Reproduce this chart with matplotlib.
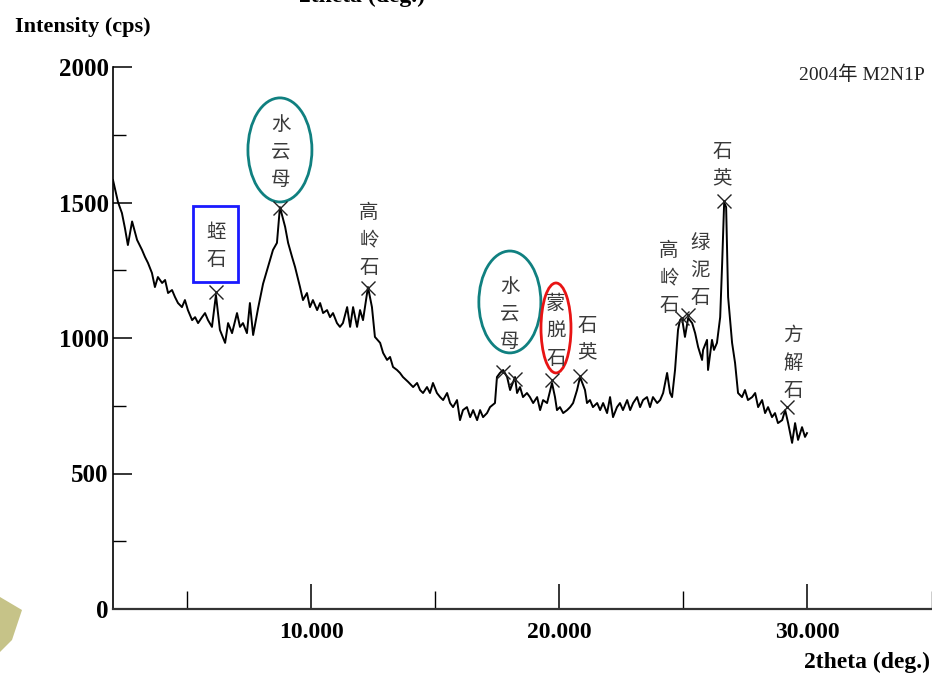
import matplotlib.pyplot as plt
from matplotlib.patches import Ellipse, Rectangle, Polygon
from matplotlib.ticker import MultipleLocator, FormatStrFormatter

plt.rcParams['font.family'] = ['Liberation Serif', 'Noto Sans CJK SC']

# XRD scan of sample M2N1P (2004)
two_theta = [2.00, 2.20, 2.36, 2.48, 2.60, 2.77, 2.97, 3.17, 3.29, 3.41, 3.57, 3.69, 3.81, 3.98,
             4.10, 4.22, 4.38, 4.50, 4.62, 4.78, 4.90, 5.02, 5.19, 5.31, 5.43, 5.59, 5.71, 5.83,
             5.99, 6.15, 6.31, 6.52, 6.64, 6.80, 7.00, 7.12, 7.24, 7.40, 7.52, 7.65, 7.85, 8.05,
             8.13, 8.33, 8.45, 8.61, 8.73, 8.94, 9.06, 9.22, 9.34, 9.54, 9.66, 9.82, 9.94, 10.06,
             10.23, 10.35, 10.47, 10.63, 10.75, 10.87, 11.03, 11.15, 11.27, 11.44, 11.56, 11.68,
             11.84, 11.96, 12.08, 12.28, 12.44, 12.56, 12.77, 12.89, 13.05, 13.17, 13.29, 13.45,
             13.57, 13.69, 13.90, 14.10, 14.26, 14.38, 14.50, 14.66, 14.78, 14.90, 15.06, 15.19,
             15.31, 15.47, 15.59, 15.71, 15.87, 15.99, 16.11, 16.27, 16.40, 16.52, 16.68, 16.80,
             16.92, 17.08, 17.20, 17.40, 17.48, 17.60, 17.73, 17.89, 18.01, 18.21, 18.29, 18.41,
             18.53, 18.69, 18.81, 18.94, 19.10, 19.22, 19.34, 19.50, 19.70, 19.82, 19.90, 20.02,
             20.15, 20.31, 20.43, 20.55, 20.71, 20.83, 21.03, 21.11, 21.23, 21.35, 21.52, 21.64,
             21.76, 21.92, 22.04, 22.16, 22.32, 22.44, 22.56, 22.73, 22.85, 22.97, 23.13, 23.25,
             23.37, 23.53, 23.65, 23.77, 23.94, 24.06, 24.18, 24.34, 24.46, 24.54, 24.66, 24.78,
             24.86, 24.94, 25.06, 25.19, 25.35, 25.47, 25.59, 25.75, 25.79, 25.95, 25.99, 26.15,
             26.23, 26.35, 26.48, 26.56, 26.64, 26.72, 26.80, 26.96, 27.08, 27.20, 27.36, 27.48,
             27.60, 27.77, 27.89, 28.01, 28.17, 28.29, 28.41, 28.57, 28.69, 28.81, 28.98, 29.10,
             29.22, 29.38, 29.50, 29.62, 29.78, 29.90, 29.98]
intensity = [1583, 1502, 1461, 1406, 1343, 1430, 1362, 1325, 1299, 1277, 1240, 1188, 1225, 1203,
             1214, 1166, 1177, 1151, 1129, 1114, 1140, 1103, 1066, 1077, 1055, 1077, 1092, 1066,
             1041, 1159, 1030, 982, 1055, 1018, 1092, 1041, 1055, 1018, 1129, 1011, 1110, 1200,
             1225, 1288, 1325, 1351, 1483, 1410, 1351, 1299, 1262, 1188, 1140, 1166, 1114, 1140,
             1103, 1129, 1092, 1103, 1077, 1092, 1055, 1041, 1055, 1114, 1041, 1114,
             1041, 1103, 1066, 1188, 1114, 1004, 982, 945, 919, 930, 893, 882,
             871, 856, 838, 819, 834, 808, 797, 819, 797, 834, 797, 782,
             771, 797, 760, 745, 771, 697, 734, 745, 708, 734, 697, 734,
             708, 723, 745, 760, 856, 871, 882, 856, 808, 856, 797, 819,
             782, 797, 782, 760, 782, 734, 771, 760, 834, 782, 734, 745,
             723, 734, 745, 760, 808, 856, 808, 760, 771, 745, 760, 734,
             760, 723, 782, 708, 745, 760, 734, 771, 734, 760, 782, 745,
             771, 782, 745, 782, 760, 771, 797, 871, 797, 782, 882, 1030,
             1066, 1074, 1004, 1074, 1055, 1018, 967, 919, 956, 993, 882, 993,
             956, 982, 1077, 1277, 1500, 1483, 1151, 982, 908, 797, 782, 808,
             771, 782, 797, 745, 771, 723, 745, 708, 723, 686, 697, 734,
             686, 613, 686, 624, 671, 635, 649]

# identified peaks (x marks)
peak_x = [6.15, 8.73, 12.28, 17.73, 18.21, 19.70, 20.83, 24.94, 25.19, 26.64, 29.18]
peak_y = [1170, 1480, 1185, 875, 848, 845, 860, 1074, 1085, 1505, 745]

fig = plt.figure(figsize=(9.32, 6.81), dpi=100)
ax = fig.add_axes([113 / 932, 72 / 681, 819 / 932, 542 / 681])

ax.plot(two_theta, intensity, color='black', lw=1.4)
ax.plot(peak_x, peak_y, 'x', color='#222222', ms=10, mew=1.0)

ax.set_xlim(2, 35.02)
ax.set_ylim(0, 2000)
for s in ['top', 'right']:
    ax.spines[s].set_visible(False)
ax.spines['left'].set_linewidth(1.2)
ax.spines['bottom'].set_linewidth(1.6)
ax.spines['bottom'].set_color('#333333')

ax.yaxis.set_major_locator(MultipleLocator(500))
ax.yaxis.set_minor_locator(MultipleLocator(250))
ax.xaxis.set_major_locator(MultipleLocator(10))
ax.xaxis.set_minor_locator(MultipleLocator(5))
ax.xaxis.set_major_formatter(FormatStrFormatter('%.3f'))
ax.tick_params(axis='y', which='major', direction='in', length=14, width=1.1, labelsize=18, pad=3)
ax.tick_params(axis='y', which='minor', direction='in', length=9, width=1.0)
ax.tick_params(axis='x', which='major', direction='in', length=18, width=1.1, labelsize=17, pad=9)
ax.tick_params(axis='x', which='minor', direction='in', length=13, width=1.0)
for lbl in ax.get_xticklabels() + ax.get_yticklabels():
    lbl.set_fontweight('bold')

fig.text(15 / 932, 1 - 27 / 681, 'Intensity (cps)', fontsize=16, fontweight='bold', va='center', ha='left')
fig.text(930 / 932, 1 - 662 / 681, '2theta (deg.)', fontsize=17, fontweight='bold', va='center', ha='right')
fig.text(362 / 932, 1 - 2 / 681, '2theta (deg.)', fontsize=17, fontweight='bold', va='baseline', ha='center')
fig.text(925 / 932, 1 - 75 / 681, '2004年 M2N1P', fontsize=14, va='center', ha='right', color='#222222')


def vlabel(x, y, text):
    ax.text(x, y, '\n'.join(text), family=['Noto Sans CJK SC'], fontsize=14, color='#3a3a3a',
            ha='center', va='center', linespacing=1.4)


vlabel(6.15, 1340, '蛭石')
vlabel(8.77, 1686, '水云母')
vlabel(12.32, 1362, '高岭石')
vlabel(18.0, 1089, '水云母')
vlabel(19.86, 1026, '蒙脱石')
vlabel(21.11, 996, '石英')
vlabel(24.42, 1221, '高岭石')
vlabel(25.67, 1251, '绿泥石')
vlabel(26.56, 1638, '石英')
vlabel(29.42, 908, '方解石')

ax.add_patch(Rectangle((5.23, 1207), 1.81, 280, fill=False, edgecolor='#1a1aff', lw=2))
ax.add_patch(Ellipse((8.73, 1694), 2.58, 384, fill=False, edgecolor='#108080', lw=2))
ax.add_patch(Ellipse((18.0, 1133), 2.5, 376, fill=False, edgecolor='#108080', lw=2))
ax.add_patch(Ellipse((19.86, 1037), 1.21, 332, fill=False, edgecolor='#e81414', lw=2))

# slide decoration at lower left
fig.patches.append(Polygon([(0, 1 - 597 / 681), (22 / 932, 1 - 610 / 681), (12 / 932, 1 - 640 / 681),
                            (0, 1 - 652 / 681)], closed=True, transform=fig.transFigure,
                           facecolor='#b8b46a', edgecolor='none', alpha=0.8))

fig.savefig('out.png', dpi=100)
